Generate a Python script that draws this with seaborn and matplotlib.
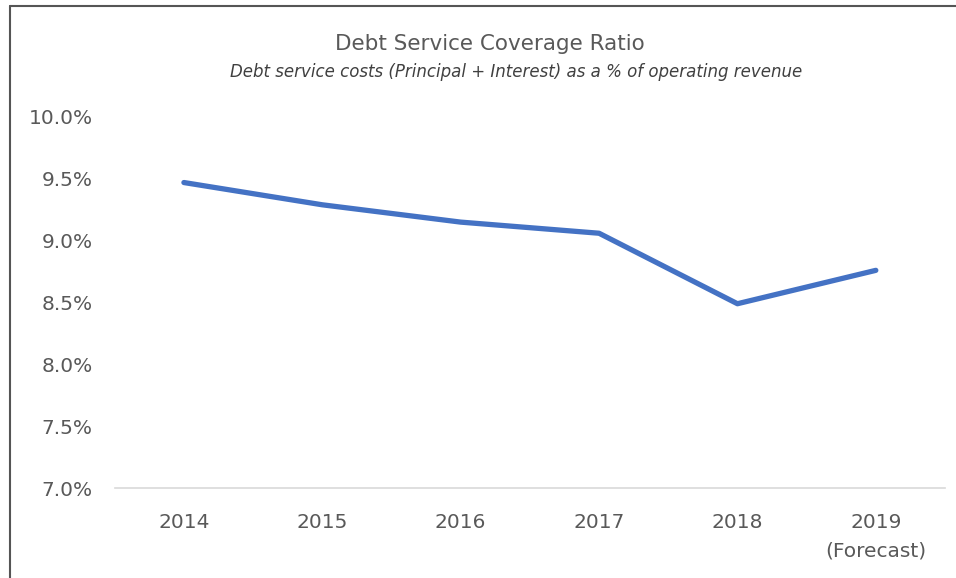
import matplotlib
matplotlib.use("Agg")
import matplotlib.pyplot as plt
from matplotlib.lines import Line2D
import seaborn as sns
import pandas as pd

years = ["2014", "2015", "2016", "2017", "2018", "2019"]
tick_labels = ["2014", "2015", "2016", "2017", "2018", "2019\n(Forecast)"]
ratio = [9.47, 9.29, 9.15, 9.06, 8.49, 8.76]
y_ticks = [7.0, 7.5, 8.0, 8.5, 9.0, 9.5, 10.0]

sns.set_theme(style="white")
plt.rcParams["font.family"] = ["DejaVu Sans"]

df = pd.DataFrame({"year": years, "ratio": ratio})

fig = plt.figure(figsize=(9.56, 5.78), dpi=100)
ax = fig.add_axes([0.120, 0.1557, 0.8685, 0.6419])

sns.lineplot(data=df, x="year", y="ratio", ax=ax, color="#4472C4",
             linewidth=3.8, sort=False)

ax.set_xlim(-0.5, len(years) - 0.5)
ax.set_ylim(7.0, 10.0)
ax.set_yticks(y_ticks)
ax.set_yticklabels([f"{v:.1f}%" for v in y_ticks])
ax.set_xticks(range(len(years)))
ax.set_xticklabels(tick_labels, linespacing=1.6, va="top")
ax.set_xlabel("")
ax.set_ylabel("")

for s in ["top", "right", "left"]:
    ax.spines[s].set_visible(False)
ax.spines["bottom"].set_color("#D9D9D9")
ax.spines["bottom"].set_linewidth(1.2)
ax.tick_params(axis="both", length=0, labelsize=14.5, colors="#595959")
ax.tick_params(axis="y", pad=16)
ax.tick_params(axis="x", pad=18)
ax.grid(False)

fig.text(0.512, 0.924, "Debt Service Coverage Ratio", ha="center", va="center",
         fontsize=15.5, color="#595959")
fig.text(0.540, 0.875, "Debt service costs (Principal + Interest) as a % of operating revenue",
         ha="center", va="center", fontsize=12, style="italic", color="#404040")

# outer frame (top and left edges visible in the reference)
fig.add_artist(Line2D([10/956, 10/956], [0, 1 - 6/578], transform=fig.transFigure,
                      color="#555555", linewidth=1.5))
fig.add_artist(Line2D([10/956, 1], [1 - 6/578, 1 - 6/578], transform=fig.transFigure,
                      color="#555555", linewidth=1.5))

fig.savefig("out.png", dpi=100, facecolor="white")
